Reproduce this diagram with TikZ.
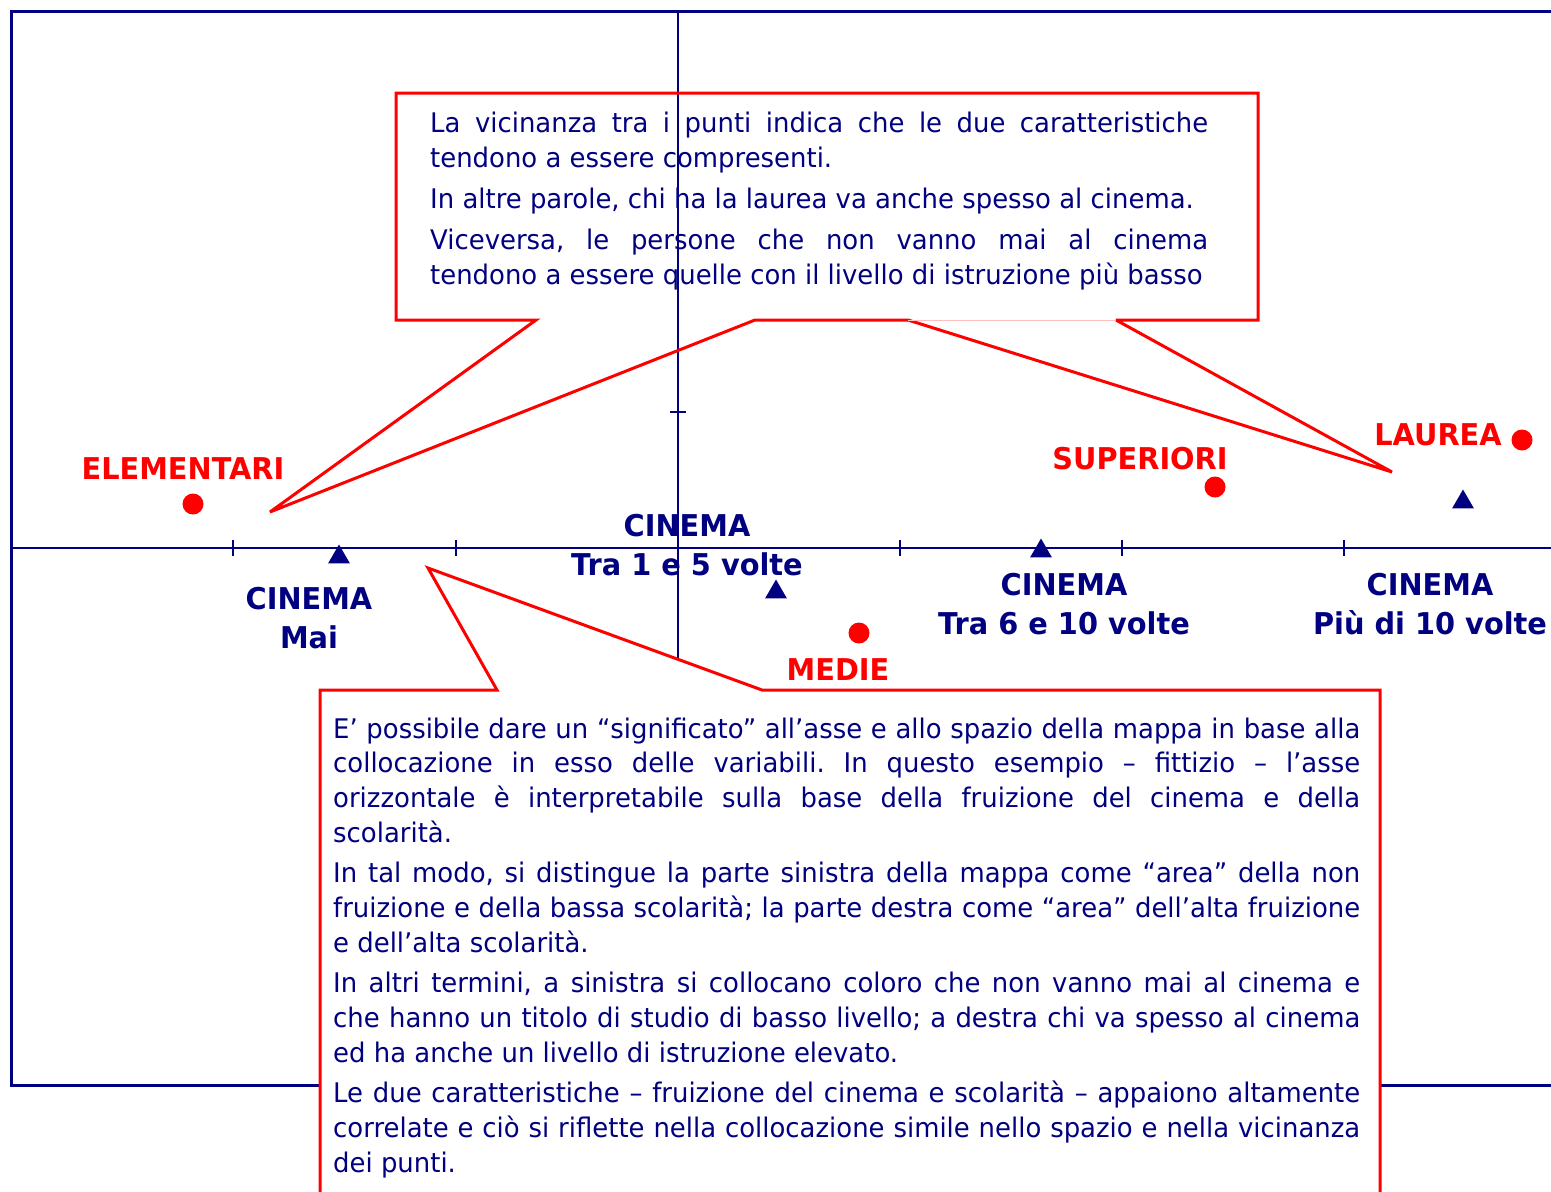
\documentclass[tikz,border=0pt]{standalone}
\usepackage{fontspec}
\setmainfont{DejaVu Sans}[FakeStretch=0.96]
\usetikzlibrary{shapes.geometric}
\definecolor{navyc}{RGB}{0,0,128}
\definecolor{redc}{RGB}{255,0,0}
\begin{document}
\frenchspacing
\begin{tikzpicture}[x=1pt,y=-1pt,
  framestyle/.style={draw=navyc, line width=3pt},
  axisstyle/.style={draw=navyc, line width=1.6pt},
  tickstyle/.style={draw=navyc, line width=1.2pt},
  calloutstyle/.style={draw=redc, line width=3pt, line join=miter, miter limit=4},
  dotmark/.style={circle, fill=redc, minimum size=21pt, inner sep=0pt},
  trimark/.style={regular polygon, regular polygon sides=3, fill=navyc, minimum size=25pt, inner sep=0pt},
  redlab/.style={font=\bfseries\fontsize{30}{36}\selectfont, text=redc, inner sep=0pt},
  navylab/.style={font=\bfseries\fontsize{30}{39.5}\selectfont, text=navyc, align=center, inner sep=0pt},
  bodytext/.style={font=\fontsize{27}{35}\selectfont, text=navyc, inner sep=0pt, anchor=base west}
]
\clip (0,0) rectangle (1551,1192);
\fill[white] (0,0) rectangle (1551,1192);
% frame
\draw[framestyle] (1560,11) -- (11,11) -- (11,1085) -- (1560,1085);
% top callout fill
\fill[white] (396,93) -- (1258,93) -- (1258,320) -- (1116,320) -- (1392,472) -- (908,320) -- (755,320) -- (270,512) -- (536,320) -- (396,320) -- cycle;
% axes
\coordinate (yaxtop) at (678,11);
\coordinate (yaxbot) at (678,700);
\coordinate (xaxl) at (11,548);
\coordinate (xaxr) at (1560,548);
\draw[axisstyle] (yaxtop) -- (yaxbot);
\draw[axisstyle] (xaxl) -- (xaxr);
\foreach \tx in {233,456,900,1122,1344}
  \draw[tickstyle] (\tx,540) -- (\tx,556);
\draw[tickstyle] (670,412) -- (686,412);
% top callout outline
\draw[calloutstyle] (396,93) -- (1258,93) -- (1258,320) -- (1116,320) -- (1392,472) -- (908,320) -- (755,320) -- (270,512) -- (536,320) -- (396,320) -- cycle;
\draw[redc!25, line width=0.8pt] (908,320) -- (1116,320);
\node[bodytext] (toptext) at (430,132) {\begin{minipage}[t]{778pt}\parskip=6pt\parindent=0pt\tolerance=10000\hbadness=10000
La vicinanza tra i punti indica che le due caratteristiche\linebreak tendono a essere compresenti.\par
In altre parole, chi ha la laurea va anche spesso al cinema.\par
Viceversa, le persone che non vanno mai al cinema\linebreak tendono a essere quelle con il livello di istruzione più basso\end{minipage}};
% markers
\node[dotmark] (delem) at (193,504) {};
\node[dotmark] (dmed) at (859,633) {};
\node[dotmark] (dsup) at (1215,487) {};
\node[dotmark] (dlau) at (1522,440) {};
\node[trimark] (tmai) at (339,557) {};
\node[trimark] (t15) at (776,592) {};
\node[trimark] (t610) at (1041,551) {};
\node[trimark] (t10) at (1463,502) {};
% labels
\node[redlab] (lelem) at (183,469) {ELEMENTARI};
\node[redlab] (lmed) at (838,670) {MEDIE};
\node[redlab] (lsup) at (1140,459) {SUPERIORI};
\node[redlab] (llau) at (1438,435) {LAUREA};
\node[navylab] (lmai) at (309,618) {CINEMA\\Mai};
\node[navylab] (l15) at (687,545) {CINEMA\\Tra 1 e 5 volte};
\node[navylab] (l610) at (1064,604) {CINEMA\\Tra 6 e 10 volte};
\node[navylab] (l10) at (1430,604) {CINEMA\\Più di 10 volte};
% bottom callout
\filldraw[calloutstyle, fill=white] (320,1210) -- (320,690) -- (497,690) -- (428,568) -- (762,690) -- (1380,690) -- (1380,1210);
\node[bodytext] (bottext) at (333,738) {\begin{minipage}[t]{1027pt}\baselineskip=34.8pt\parskip=5.5pt\parindent=0pt\tolerance=10000\hbadness=10000
E’ possibile dare un “significato” all’asse e allo spazio della mappa in base alla\linebreak collocazione in esso delle variabili. In questo esempio – fittizio – l’asse\linebreak orizzontale è interpretabile sulla base della fruizione del cinema e della\linebreak scolarità.\par
In tal modo, si distingue la parte sinistra della mappa come “area” della non\linebreak fruizione e della bassa scolarità; la parte destra come “area” dell’alta fruizione\linebreak e dell’alta scolarità.\par
In altri termini, a sinistra si collocano coloro che non vanno mai al cinema e\linebreak che hanno un titolo di studio di basso livello; a destra chi va spesso al cinema\linebreak ed ha anche un livello di istruzione elevato.\par
Le due caratteristiche – fruizione del cinema e scolarità – appaiono altamente\linebreak correlate e ciò si riflette nella collocazione simile nello spazio e nella vicinanza\linebreak dei punti.\end{minipage}};
\end{tikzpicture}
\end{document}
